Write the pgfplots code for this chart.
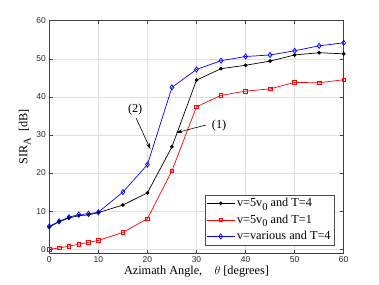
\documentclass[border=0pt]{standalone}
\usepackage{fontspec}
\setmainfont{Liberation Serif}
\newfontfamily\sansf{Liberation Sans}
\usepackage{pgfplots}
\pgfplotsset{compat=1.18}
\usetikzlibrary{arrows.meta}
\newcommand{\lsub}[1]{\raisebox{-0.55ex}{\fontsize{10.5}{12}\selectfont #1}}
\begin{document}
\begin{tikzpicture}
\useasboundingbox (-49.3bp,-32bp) rectangle (329.7bp,253bp);
\begin{axis}[
  at={(0,0)}, anchor=south west,
  scale only axis, width=294.4bp, height=232.3bp,
  xmin=0, xmax=60, ymin=-1, ymax=60,
  xtick={0,10,...,60}, ytick={0,10,...,60},
  tick align=inside,
  grid=major,
  major grid style={draw=black!12, line width=0.5pt},
  axis line style={draw=black!75, line width=0.6pt},
  tick style={draw=black!75, line width=0.5pt},
  major tick length=3.5bp,
  /pgf/number format/assume math mode=true,
  tick label style={font=\sansf\fontsize{8.5}{10}\selectfont, text=black!85},
  label style={font=\fontsize{12.3}{14}\selectfont},
  xlabel={Azimath Angle,\quad $\theta$ [degrees]},
  ylabel={SIR\lsub{A} \ [dB]},
  xlabel style={yshift=3bp},
  ylabel style={yshift=-1bp},
  legend style={at={(rel axis cs:0.968,0.034)}, anchor=south east, font=\fontsize{12.3}{14}\selectfont, draw=black!70, line width=0.5pt, inner sep=1.5pt, row sep=2.5pt},
  legend cell align=left,
  legend image code/.code={\draw[mark repeat=2,mark phase=2] plot coordinates {(0bp,0bp) (14bp,0bp) (28bp,0bp)};},
]
\addplot[black, line width=0.7pt, mark=*, mark size=1.5pt, mark options={solid, fill=black}] coordinates {
(0,5.8) (2,7.2) (4,8.2) (6,8.8) (8,9.0) (10,9.6) (15,11.6) (20,14.8) (25,26.9) (30,44.4) (35,47.4) (40,48.3) (45,49.4) (50,51.0) (55,51.6) (60,51.3)};
\addlegendentry{v=5v\lsub{0} and T=4}
\addplot[red, line width=0.7pt, mark=square, mark size=1.8pt, mark options={solid}] coordinates {
(0,0) (2,0.3) (4,0.8) (6,1.3) (8,1.8) (10,2.3) (15,4.4) (20,8.0) (25,20.6) (30,37.4) (35,40.4) (40,41.5) (45,42.1) (50,43.8) (55,43.7) (60,44.5)};
\addlegendentry{v=5v\lsub{0} and T=1}
\addplot[blue, line width=0.7pt, mark=diamond, mark size=2.6pt, mark options={solid}] coordinates {
(0,6.0) (2,7.3) (4,8.4) (6,9.1) (8,9.3) (10,9.7) (15,15.0) (20,22.2) (25,42.5) (30,47.2) (35,49.5) (40,50.6) (45,51.0) (50,52.1) (55,53.4) (60,54.2)};
\addlegendentry{v=various and T=4}
\draw[-{Stealth[length=6bp,width=4bp]}, line width=0.6pt] (axis cs:17.7,34.4) -- (axis cs:20.6,26.3);
\node[font=\fontsize{12.3}{14}\selectfont] at (axis cs:17.5,36.8) {(2)};
\draw[-{Stealth[length=6bp,width=4bp]}, line width=0.6pt] (axis cs:31.9,32.6) -- (axis cs:25.9,30.6);
\node[font=\fontsize{12.3}{14}\selectfont] at (axis cs:34.6,32.5) {(1)};
\end{axis}
\end{tikzpicture}
\end{document}
